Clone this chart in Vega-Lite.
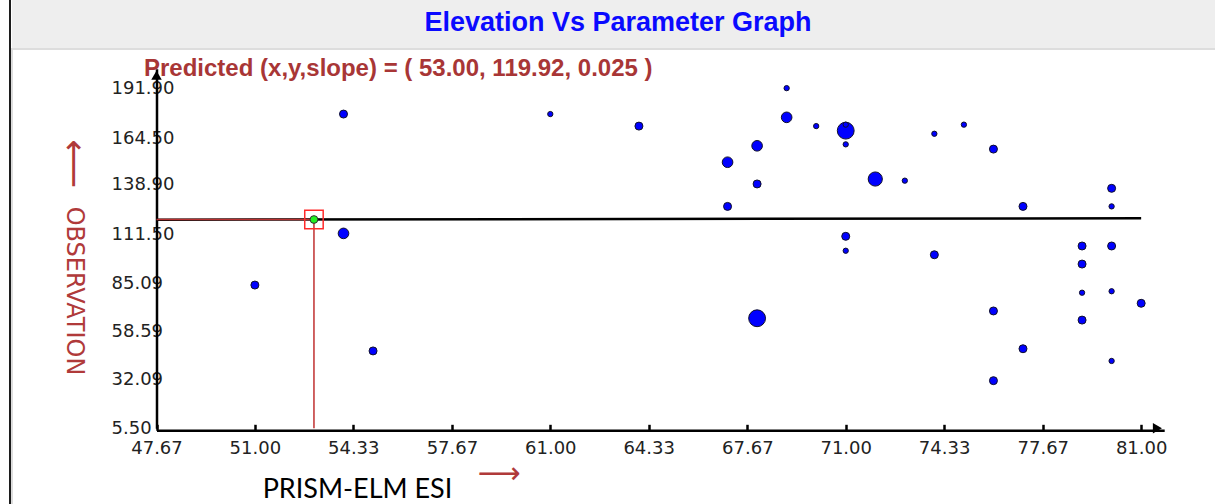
{
  "$schema": "https://vega.github.io/schema/vega-lite/v6.json",
  "padding": {"left": 9, "top": 0, "right": 0, "bottom": 0},
  "background": "white",
  "spacing": 0,
  "config": {"view": {"stroke": null}, "concat": {"spacing": 0}},
  "datasets": {
    "samples": [
      {"x": 51, "y": 84, "n": 2},
      {"x": 54, "y": 177.7, "n": 2},
      {"x": 54, "y": 112.3, "n": 3},
      {"x": 55, "y": 47.9, "n": 2},
      {"x": 61, "y": 177.7, "n": 1},
      {"x": 64, "y": 171.1, "n": 2},
      {"x": 67, "y": 151.3, "n": 3},
      {"x": 67, "y": 127.1, "n": 2},
      {"x": 68, "y": 160.3, "n": 3},
      {"x": 68, "y": 139.4, "n": 2},
      {"x": 68, "y": 65.8, "n": 5},
      {"x": 69, "y": 191.9, "n": 1},
      {"x": 69, "y": 175.9, "n": 3},
      {"x": 70, "y": 171.1, "n": 1},
      {"x": 71, "y": 168.6, "n": 5},
      {"x": 71, "y": 171.9, "n": 1},
      {"x": 71, "y": 161.1, "n": 1},
      {"x": 71, "y": 110.7, "n": 2},
      {"x": 71, "y": 102.8, "n": 1},
      {"x": 72, "y": 142.1, "n": 4},
      {"x": 73, "y": 141.2, "n": 1},
      {"x": 74, "y": 166.9, "n": 1},
      {"x": 74, "y": 100.6, "n": 2},
      {"x": 75, "y": 171.9, "n": 1},
      {"x": 76, "y": 158.5, "n": 2},
      {"x": 76, "y": 69.8, "n": 2},
      {"x": 76, "y": 31.6, "n": 2},
      {"x": 77, "y": 127.1, "n": 2},
      {"x": 77, "y": 49.1, "n": 2},
      {"x": 79, "y": 105.4, "n": 2},
      {"x": 79, "y": 95.5, "n": 2},
      {"x": 79, "y": 79.8, "n": 1},
      {"x": 79, "y": 64.8, "n": 2},
      {"x": 80, "y": 137, "n": 2},
      {"x": 80, "y": 127.1, "n": 1},
      {"x": 80, "y": 105.4, "n": 2},
      {"x": 80, "y": 80.6, "n": 1},
      {"x": 80, "y": 42.4, "n": 1},
      {"x": 81, "y": 74, "n": 2}
    ],
    "fit": [
      {"x": 47.67, "y": 119.79},
      {"x": 81, "y": 120.62}
    ],
    "prediction": [
      {"x": 53.0, "y": 119.92, "slope": 0.025}
    ]
  },
  "hconcat": [
    {
      "width": 2,
      "height": 504,
      "view": {"fill": "#1c1c1c", "stroke": null},
      "data": {"values": [{}]},
      "mark": {"type": "text"},
      "encoding": {"text": {"value": ""}}
    },
    {
      "spacing": 0,
      "vconcat": [
        {
          "width": 1206,
          "height": 48,
          "view": {"fill": "#eeeeee", "stroke": null},
          "data": {"values": [{"title": "Elevation Vs Parameter Graph"}]},
          "mark": {"type": "text", "font": "Liberation Sans", "fontWeight": "bold", "fontSize": 27, "color": "#0a0aff", "baseline": "middle", "dx": 3, "dy": -1},
          "encoding": {"text": {"field": "title"}}
        },
        {
          "width": 1206,
          "height": 456,
          "view": {"fill": "white", "stroke": "#dddddd", "strokeWidth": 2},
          "title": {
            "text": "Predicted (x,y,slope) = ( 53.00, 119.92, 0.025 )",
            "anchor": "start",
            "frame": "group",
            "orient": "top",
            "offset": -44,
            "dx": 132,
            "baseline": "middle",
            "font": "Liberation Sans",
            "fontWeight": "bold",
            "fontSize": 24,
            "color": "#a83636"
          },
          "encoding": {
            "x": {
              "field": "x",
              "type": "quantitative",
              "scale": {"domain": [47.67, 81.78], "range": [144.5, 1152.2], "zero": false, "nice": false},
              "axis": {
                "title": "PRISM-ELM ESI",
                "orient": "bottom",
                "offset": -74.7,
                "values": [47.67, 51, 54.33, 57.67, 61, 64.33, 67.67, 71, 74.33, 77.67, 81],
                "format": ".2f",
                "grid": false,
                "domainColor": "black",
                "domainWidth": 2.5,
                "ticks": true,
                "tickColor": "black",
                "tickWidth": 2.5,
                "tickSize": -6,
                "labelFont": "DejaVu Sans",
                "labelFontSize": 18,
                "labelColor": "#222222",
                "labelPadding": 15,
                "labelFlush": false,
                "labelOverlap": false,
                "labelBound": false,
                "titleFont": "Lato",
                "titleFontSize": 27,
                "titleFontWeight": "normal",
                "titleColor": "black",
                "titleX": 345,
                "titleY": 58.7,
                "titleAlign": "center",
                "titleBaseline": "middle",
                "titleAngle": 0
              }
            },
            "y": {
              "field": "y",
              "type": "quantitative",
              "scale": {"domain": [5.5, 202.5], "range": [379.3, 19.8], "zero": false, "nice": false},
              "axis": {
                "title": "OBSERVATION",
                "orient": "left",
                "offset": -144.5,
                "values": [5.5, 32.09, 58.59, 85.09, 111.5, 138.9, 164.5, 191.9],
                "format": ".2f",
                "grid": false,
                "ticks": false,
                "domainColor": "black",
                "domainWidth": 2.5,
                "labelAlign": "left",
                "labelBaseline": "middle",
                "labelPadding": 45.5,
                "labelFont": "DejaVu Sans",
                "labelFontSize": 18,
                "labelColor": "#222222",
                "labelFlush": false,
                "labelOverlap": false,
                "labelBound": false,
                "titleFont": "DejaVu Sans",
                "titleFontSize": 24,
                "titleFontWeight": "normal",
                "titleColor": "#b03a3a",
                "titleAngle": 90,
                "titleX": -83.5,
                "titleY": 241.5,
                "titleAlign": "center",
                "titleBaseline": "middle"
              }
            }
          },
          "layer": [
            {
              "data": {"name": "fit"},
              "mark": {"type": "line", "color": "black", "strokeWidth": 2.5}
            },
            {
              "data": {"name": "samples"},
              "mark": {"type": "point", "shape": "circle", "filled": true, "fill": "#0000ff", "stroke": "#10102a", "strokeWidth": 1, "opacity": 1},
              "encoding": {
                "size": {"field": "n", "type": "quantitative", "scale": {"type": "linear", "domain": [1, 2, 3, 4, 5], "range": [28, 64, 113, 201, 284]}, "legend": null}
              }
            },
            {
              "data": {"name": "prediction"},
              "mark": {"type": "rule", "color": "#b83030", "strokeWidth": 1.5},
              "encoding": {"x": {"datum": 47.67}, "x2": {"field": "x"}}
            },
            {
              "data": {"name": "prediction"},
              "mark": {"type": "rule", "color": "#c03030", "strokeWidth": 1.5},
              "encoding": {"y": {"datum": 5.5}, "y2": {"field": "y"}}
            },
            {
              "data": {"name": "prediction"},
              "mark": {"type": "point", "shape": "square", "filled": false, "stroke": "#ff2a2a", "strokeWidth": 1.5, "size": 340, "opacity": 1}
            },
            {
              "data": {"name": "prediction"},
              "mark": {"type": "point", "shape": "circle", "filled": true, "fill": "#22ee22", "stroke": "#333333", "strokeWidth": 1, "size": 60, "opacity": 1}
            },
            {
              "data": {"name": "prediction"},
              "mark": {"type": "point", "shape": "triangle-right", "filled": true, "color": "black", "size": 110, "opacity": 1},
              "encoding": {"x": {"datum": 81.55}, "y": {"datum": 5.5}}
            },
            {
              "data": {"name": "prediction"},
              "mark": {"type": "point", "shape": "triangle-up", "filled": true, "color": "black", "size": 110, "opacity": 1},
              "encoding": {"x": {"datum": 47.67}, "y": {"datum": 199}}
            },
            {
              "data": {"name": "prediction"},
              "mark": {"type": "text", "text": "⟶", "font": "DejaVu Sans", "fontSize": 30, "color": "#b03a3a", "align": "center", "baseline": "middle"},
              "encoding": {"x": {"datum": 59.26}, "y": {"datum": -19.54}}
            },
            {
              "data": {"name": "prediction"},
              "mark": {"type": "text", "text": "⟵", "font": "DejaVu Sans", "fontSize": 34, "color": "#b03a3a", "align": "center", "baseline": "middle", "angle": 90},
              "encoding": {"x": {"datum": 44.84}, "y": {"datum": 150.6}}
            }
          ]
        }
      ]
    }
  ]
}
